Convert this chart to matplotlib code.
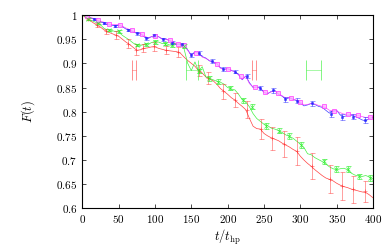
import numpy as np
import matplotlib
matplotlib.use("Agg")
import matplotlib.pyplot as plt
from matplotlib.ticker import FuncFormatter

plt.rcParams['mathtext.fontset'] = 'cm'
plt.rcParams['font.family'] = 'serif'
plt.rcParams['font.serif'] = ['DejaVu Serif']

# time grid of the curves (t / t_hp)
t_line = np.arange(0, 401, 5)

# fidelity curves
F_red = [1.000, 0.994, 0.989, 0.984, 0.979, 0.975, 0.969, 0.965, 0.962, 0.959,
         0.956, 0.950, 0.944, 0.939, 0.933, 0.927, 0.928, 0.931, 0.932, 0.934,
         0.934, 0.931, 0.929, 0.927, 0.926, 0.925, 0.924, 0.921, 0.913, 0.906,
         0.900, 0.894, 0.885, 0.880, 0.872, 0.868, 0.864, 0.857, 0.848, 0.842,
         0.836, 0.829, 0.824, 0.817, 0.811, 0.804, 0.786, 0.770, 0.765, 0.764,
         0.755, 0.750, 0.746, 0.743, 0.740, 0.735, 0.731, 0.727, 0.722, 0.718,
         0.708, 0.700, 0.693, 0.687, 0.680, 0.674, 0.668, 0.663, 0.660, 0.657,
         0.652, 0.648, 0.645, 0.643, 0.640, 0.638, 0.636, 0.634, 0.633, 0.628,
         0.622]
F_green = [1.000, 0.995, 0.990, 0.987, 0.984, 0.980, 0.972, 0.969, 0.968, 0.966,
           0.965, 0.958, 0.953, 0.948, 0.942, 0.938, 0.937, 0.939, 0.938, 0.943,
           0.945, 0.944, 0.941, 0.941, 0.938, 0.937, 0.940, 0.941, 0.930, 0.900,
           0.885, 0.903, 0.884, 0.893, 0.872, 0.869, 0.866, 0.863, 0.861, 0.857,
           0.850, 0.847, 0.845, 0.836, 0.825, 0.820, 0.810, 0.796, 0.786, 0.780,
           0.774, 0.771, 0.766, 0.764, 0.761, 0.757, 0.752, 0.749, 0.745, 0.739,
           0.733, 0.726, 0.713, 0.711, 0.705, 0.701, 0.697, 0.692, 0.686, 0.682,
           0.680, 0.682, 0.683, 0.680, 0.673, 0.669, 0.667, 0.666, 0.668, 0.665,
           0.661]
F_blue = [1.000, 0.998, 0.995, 0.992, 0.988, 0.986, 0.983, 0.980, 0.979, 0.978,
          0.979, 0.976, 0.971, 0.969, 0.965, 0.962, 0.961, 0.955, 0.951, 0.955,
          0.958, 0.955, 0.950, 0.950, 0.947, 0.943, 0.939, 0.939, 0.937, 0.928,
          0.917, 0.924, 0.921, 0.914, 0.911, 0.905, 0.903, 0.900, 0.891, 0.888,
          0.889, 0.885, 0.883, 0.877, 0.866, 0.874, 0.860, 0.850, 0.851, 0.849,
          0.840, 0.837, 0.842, 0.844, 0.836, 0.832, 0.826, 0.829, 0.825, 0.823,
          0.818, 0.812, 0.814, 0.817, 0.815, 0.811, 0.809, 0.803, 0.797, 0.802,
          0.803, 0.793, 0.790, 0.792, 0.793, 0.790, 0.787, 0.783, 0.781, 0.786,
          0.788]
F_magenta = [1.000, 0.998, 0.996, 0.993, 0.990, 0.987, 0.985, 0.982, 0.980, 0.980,
             0.980, 0.977, 0.973, 0.970, 0.966, 0.963, 0.962, 0.957, 0.953, 0.955,
             0.957, 0.955, 0.951, 0.950, 0.948, 0.945, 0.940, 0.940, 0.937, 0.927,
             0.916, 0.923, 0.921, 0.913, 0.910, 0.906, 0.903, 0.899, 0.890, 0.887,
             0.889, 0.886, 0.882, 0.876, 0.867, 0.873, 0.858, 0.851, 0.851, 0.848,
             0.840, 0.838, 0.841, 0.843, 0.837, 0.833, 0.828, 0.830, 0.826, 0.824,
             0.820, 0.814, 0.815, 0.817, 0.816, 0.813, 0.811, 0.808, 0.803, 0.802,
             0.801, 0.798, 0.795, 0.795, 0.794, 0.793, 0.792, 0.790, 0.788, 0.789,
             0.789]

# sampled points with error bars
t_red_pts = [8, 20, 33, 47, 63, 74, 84, 99, 115, 132, 160, 173, 194, 210, 226,
             246, 261, 277, 295, 316, 341, 358, 373, 389]
F_red_pts = [0.992, 0.979, 0.966, 0.959, 0.941, 0.928, 0.931, 0.935, 0.928, 0.924,
             0.885, 0.870, 0.842, 0.824, 0.804, 0.764, 0.745, 0.733, 0.718, 0.687,
             0.660, 0.647, 0.640, 0.635]
e_red_pts = [0.002, 0.004, 0.005, 0.008, 0.009, 0.011, 0.008, 0.010, 0.008, 0.010,
             0.012, 0.013, 0.015, 0.015, 0.018, 0.021, 0.024, 0.027, 0.029, 0.027,
             0.029, 0.029, 0.028, 0.022]

t_green_pts = [8, 22, 37, 50, 75, 88, 100, 114, 123, 140, 160, 175, 187, 203, 221,
               233, 253, 270, 285, 301, 332, 349, 365, 381, 396]
F_green_pts = [0.992, 0.983, 0.969, 0.966, 0.938, 0.939, 0.945, 0.941, 0.938, 0.935,
               0.884, 0.869, 0.862, 0.849, 0.824, 0.810, 0.771, 0.761, 0.749, 0.731,
               0.697, 0.681, 0.681, 0.666, 0.663]
e_green_pts = [0.002, 0.002, 0.003, 0.003, 0.003, 0.003, 0.004, 0.004, 0.004, 0.004,
               0.004, 0.005, 0.005, 0.005, 0.005, 0.005, 0.006, 0.006, 0.006, 0.006,
               0.006, 0.006, 0.006, 0.006, 0.006]

t_blue_pts = [16, 30, 45, 63, 75, 88, 99, 111, 124, 137, 150, 160, 178, 194, 210,
              226, 244, 262, 279, 295, 316, 342, 357, 373, 389]
F_blue_pts = [0.992, 0.983, 0.978, 0.969, 0.962, 0.952, 0.958, 0.950, 0.943, 0.939,
              0.917, 0.921, 0.904, 0.888, 0.883, 0.874, 0.849, 0.844, 0.826, 0.823,
              0.817, 0.795, 0.789, 0.790, 0.782]
e_blue_pts = [0.002, 0.002, 0.002, 0.003, 0.003, 0.003, 0.003, 0.003, 0.003, 0.003,
              0.004, 0.004, 0.004, 0.004, 0.004, 0.004, 0.005, 0.005, 0.005, 0.005,
              0.005, 0.006, 0.006, 0.006, 0.006]

t_mag_pts = [7, 22, 37, 52, 68, 82, 100, 120, 132, 140, 157, 185, 200, 218, 237,
             252, 269, 287, 300, 332, 347, 366, 380, 396]
F_mag_pts = [0.997, 0.989, 0.981, 0.979, 0.968, 0.960, 0.957, 0.948, 0.941, 0.938,
             0.922, 0.899, 0.889, 0.874, 0.851, 0.840, 0.838, 0.829, 0.820, 0.811,
             0.802, 0.795, 0.793, 0.789]

# horizontal markers (time windows)
t_red_bars = [71, 236]
xe_red_bars = [3, 3]
t_green_bars = [151, 318]
xe_green_bars = [8, 10.5]
F_bars = 0.886

fig = plt.figure(figsize=(3.87, 2.47), dpi=100)
ax = fig.add_axes([0.2127, 0.1563, 0.7511, 0.783])

red = '#ff2020'
green = '#30f030'
blue = '#2020ff'
magenta = '#ff30ff'

ax.plot(t_line, F_red, color=red, lw=0.5, alpha=0.85)
ax.plot(t_line, F_green, color=green, lw=0.5, alpha=0.9)
ax.plot(t_line, F_blue, color=blue, lw=0.5, alpha=0.85)
ax.plot(t_line, F_magenta, color=magenta, lw=0.5, alpha=0.85)

ax.errorbar(t_red_pts, F_red_pts, yerr=e_red_pts, fmt='+', color=red, ms=2.5,
            mew=0.5, elinewidth=0.5, capsize=1.8, capthick=0.5, alpha=0.6)
ax.errorbar(t_green_pts, F_green_pts, yerr=e_green_pts, fmt='x', color=green, ms=2.2,
            mew=0.5, elinewidth=0.5, capsize=1.8, capthick=0.5, alpha=0.9)
ax.errorbar(t_blue_pts, F_blue_pts, yerr=e_blue_pts, fmt='s', color=blue, ms=1.8,
            mew=0.4, elinewidth=0.5, capsize=1.8, capthick=0.5, alpha=0.8)
ax.plot(t_mag_pts, F_mag_pts, 's', mfc='#ffb0ff', mec=magenta, ms=2.6, mew=0.6, alpha=0.8)

ax.errorbar(t_red_bars, [F_bars] * 2, xerr=xe_red_bars, fmt='none', ecolor=red,
            elinewidth=0.5, capsize=7, capthick=0.7, alpha=0.5)
ax.errorbar(t_green_bars, [F_bars] * 2, xerr=xe_green_bars, fmt='none', ecolor=green,
            elinewidth=0.5, capsize=7, capthick=0.7, alpha=0.6)

ax.set_xlim(0, 400)
ax.set_ylim(0.6, 1.0)
ax.set_xticks(np.arange(0, 401, 50))
ax.set_yticks(np.arange(0.6, 1.001, 0.05))
ax.xaxis.set_major_formatter(FuncFormatter(lambda v, p: '$%g$' % round(v, 2)))
ax.yaxis.set_major_formatter(FuncFormatter(lambda v, p: '$%g$' % round(v, 2)))
ax.tick_params(direction='in', top=True, right=True, labelsize=8, length=3, width=0.5)
for s in ax.spines.values():
    s.set_linewidth(0.8)

ax.set_xlabel(r'$t/t_{\rm hp}$', fontsize=9, va='center')
ax.set_ylabel(r'$F(t)$', fontsize=9, va='center')
ax.xaxis.set_label_coords(0.5, -0.15)
ax.yaxis.set_label_coords(-0.187, 0.5)

fig.savefig('out.png', dpi=100)
